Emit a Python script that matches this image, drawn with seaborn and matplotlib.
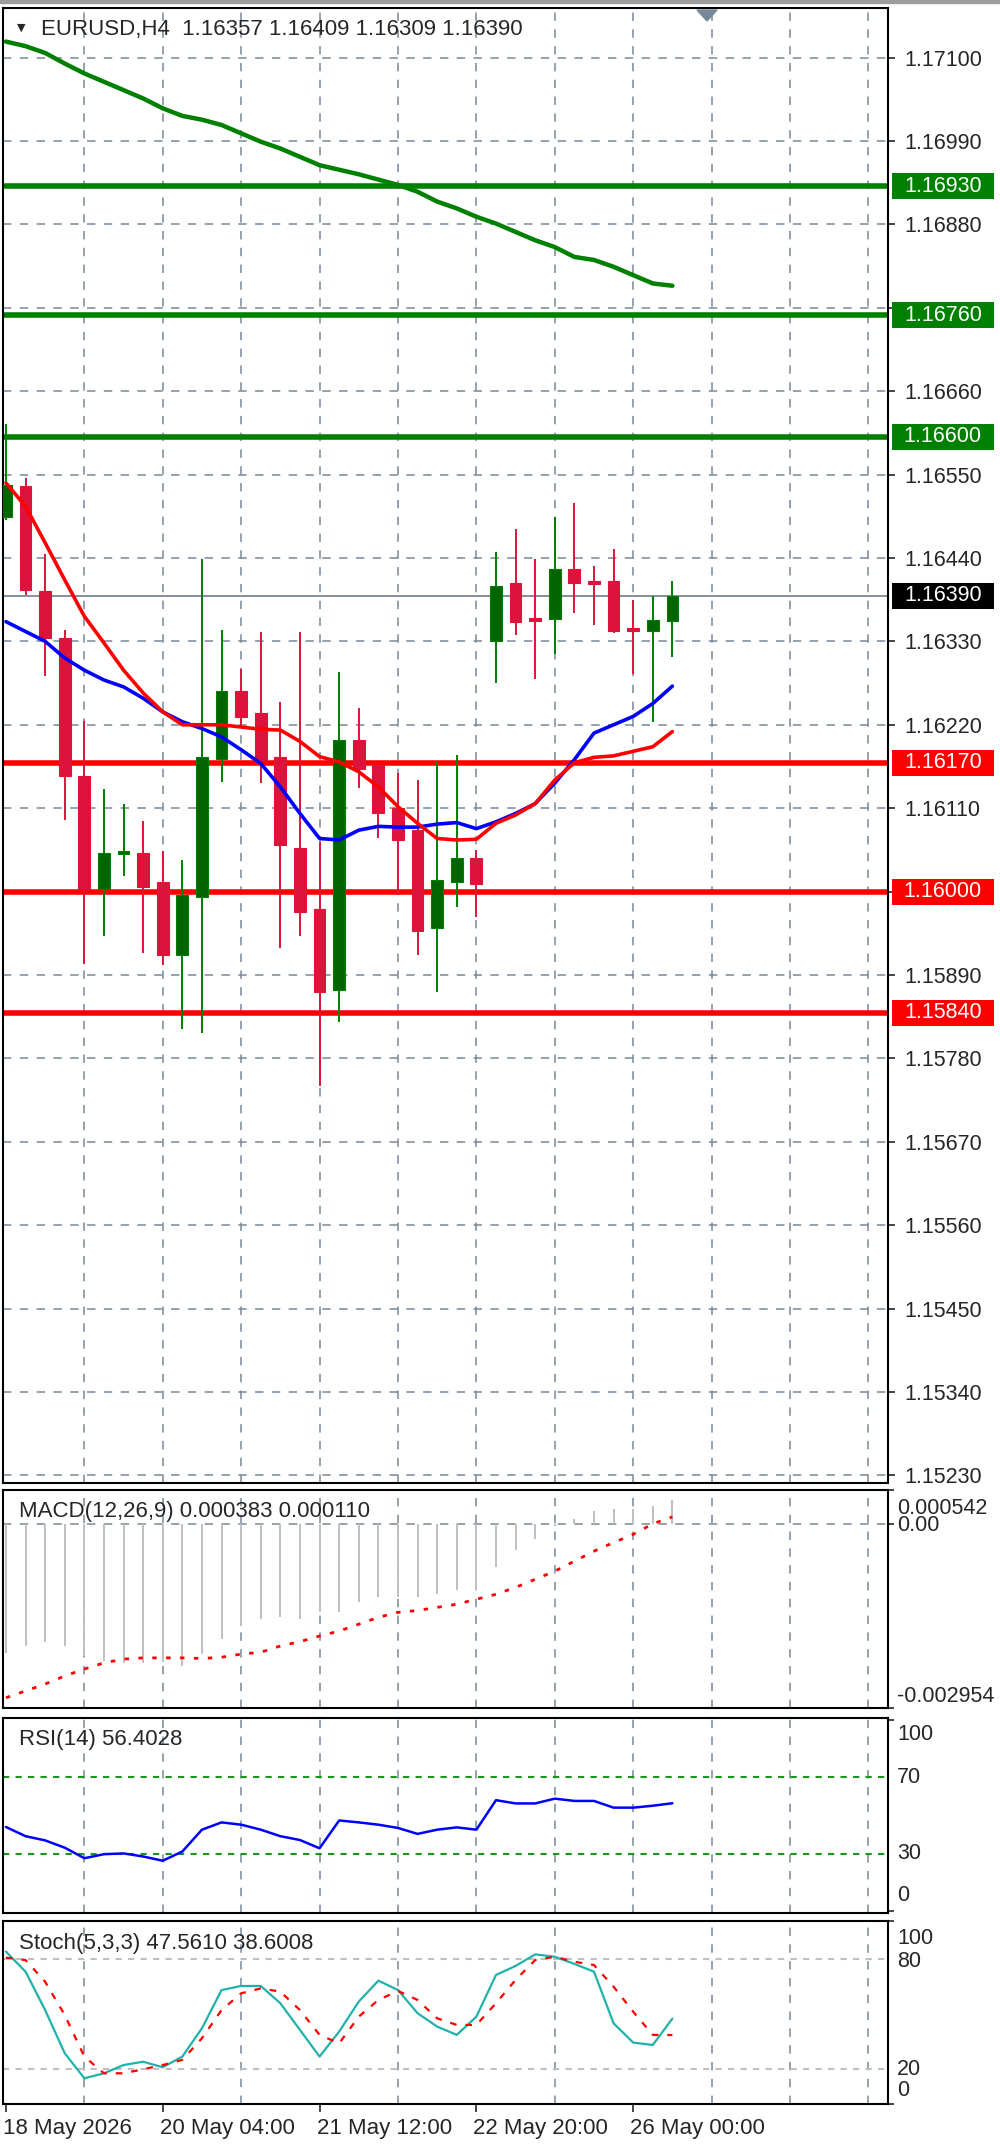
import matplotlib
matplotlib.use("Agg")
import matplotlib.pyplot as plt
import matplotlib.transforms as mtransforms
from matplotlib.patches import Rectangle, Polygon
import seaborn as sns
import numpy as np
import pandas as pd

#-------------------------------------------------------------------------------
# Data
#-------------------------------------------------------------------------------
opens = [1.16494, 1.16535, 1.16396, 1.16335, 1.16152, 1.16003, 1.16049, 1.16051, 1.16012, 1.15916,
         1.15993, 1.16175, 1.16264, 1.16235, 1.16177, 1.16057, 1.15977, 1.15870, 1.16200, 1.16167,
         1.16110, 1.16081, 1.15952, 1.16013, 1.16044, 1.16330, 1.16407, 1.16361, 1.16359, 1.16425,
         1.16410, 1.16410, 1.16348, 1.16343, 1.16357]
highs = [1.16617, 1.16545, 1.16445, 1.16345, 1.16225, 1.16135, 1.16115, 1.16093, 1.16054, 1.16041,
         1.16438, 1.16345, 1.16293, 1.16342, 1.16250, 1.16342, 1.16065, 1.16290, 1.16242, 1.16170,
         1.16157, 1.16147, 1.16171, 1.16180, 1.16055, 1.16448, 1.16478, 1.16439, 1.16494, 1.16513,
         1.16429, 1.16452, 1.16384, 1.16390, 1.16409]
lows = [1.16490, 1.16391, 1.16284, 1.16094, 1.15905, 1.15941, 1.16020, 1.15919, 1.15903, 1.15819,
        1.15813, 1.16145, 1.16217, 1.16143, 1.15925, 1.15941, 1.15744, 1.15828, 1.16136, 1.16070,
        1.15996, 1.15916, 1.15868, 1.15980, 1.15967, 1.16275, 1.16339, 1.16281, 1.16313, 1.16368,
        1.16352, 1.16341, 1.16287, 1.16224, 1.16309]
closes = [1.16536, 1.16398, 1.16334, 1.16152, 1.16003, 1.16051, 1.16054, 1.16006, 1.15916, 1.15996,
          1.16177, 1.16264, 1.16230, 1.16174, 1.16061, 1.15973, 1.15868, 1.16200, 1.16162, 1.16103,
          1.16068, 1.15948, 1.16015, 1.16044, 1.16010, 1.16403, 1.16355, 1.16357, 1.16425, 1.16407,
          1.16406, 1.16343, 1.16343, 1.16358, 1.16390]

ma_fast = [1.16539, 1.16508, 1.16460, 1.16411, 1.16363, 1.16328, 1.16292, 1.16262, 1.16237, 1.16220,
           1.16220, 1.16220, 1.16217, 1.16214, 1.16213, 1.16198, 1.16178, 1.16171, 1.16158, 1.16138,
           1.16112, 1.16090, 1.16070, 1.16068, 1.16069, 1.16090, 1.16101, 1.16116, 1.16147, 1.16170,
           1.16177, 1.16179, 1.16185, 1.16191, 1.16211]
ma_mid = [1.16356, 1.16343, 1.16330, 1.16308, 1.16292, 1.16279, 1.16270, 1.16255, 1.16237, 1.16224,
          1.16215, 1.16204, 1.16187, 1.16169, 1.16138, 1.16103, 1.16070, 1.16068, 1.16081, 1.16086,
          1.16085, 1.16085, 1.16089, 1.16091, 1.16083, 1.16092, 1.16103, 1.16116, 1.16143, 1.16174,
          1.16209, 1.16220, 1.16231, 1.16248, 1.16271]
ma_slow = [1.17121, 1.17115, 1.17106, 1.17092, 1.17079, 1.17068, 1.17057, 1.17046, 1.17033, 1.17023,
           1.17018, 1.17011, 1.17000, 1.16989, 1.16980, 1.16969, 1.16958, 1.16952, 1.16946, 1.16939,
           1.16932, 1.16923, 1.16910, 1.16901, 1.16890, 1.16881, 1.16870, 1.16859, 1.16850, 1.16837,
           1.16833, 1.16824, 1.16813, 1.16802, 1.16799]

levels_green = [1.16930, 1.16760, 1.16600]
levels_red = [1.16170, 1.16000, 1.15840]
price_ticks = [1.17100, 1.16990, 1.16880, 1.16770, 1.16660, 1.16550, 1.16440, 1.16330, 1.16220,
               1.16110, 1.16000, 1.15890, 1.15780, 1.15670, 1.15560, 1.15450, 1.15340, 1.15230]
hidden_ticks = [1.16770, 1.16000]

macd_main = [-0.00207, -0.00196, -0.00189, -0.00196, -0.00212, -0.00220, -0.00223, -0.00224, -0.00222, -0.00228,
             -0.00208, -0.00185, -0.00164, -0.00153, -0.00149, -0.00153, -0.00141, -0.00141, -0.00125, -0.00118,
             -0.00117, -0.00118, -0.00113, -0.00106, -0.00106, -0.00070, -0.00042, -0.00024, -0.00003, 0.00007,
             0.00020, 0.00023, 0.00023, 0.00028, 0.000383]
macd_signal = [-0.00279, -0.00268, -0.00257, -0.00244, -0.00233, -0.00223, -0.00217, -0.00215, -0.00215, -0.00215,
               -0.00216, -0.00214, -0.00209, -0.00206, -0.00196, -0.00189, -0.00180, -0.00172, -0.00161, -0.00150,
               -0.00142, -0.00139, -0.00134, -0.00129, -0.00121, -0.00113, -0.00102, -0.00089, -0.00076, -0.00060,
               -0.00044, -0.00030, -0.00017, 0.00000, 0.000110]
macd_range = (-0.002954, 0.000542)

rsi = [44.0, 39.2, 37.0, 33.2, 27.7, 29.8, 30.2, 28.6, 26.4, 31.2,
       42.6, 46.4, 45.2, 42.6, 39.2, 37.2, 32.9, 47.4, 46.4, 45.2,
       43.5, 40.4, 42.6, 43.8, 42.6, 58.0, 56.3, 56.3, 58.8, 57.6,
       57.6, 54.1, 54.1, 55.1, 56.4028]
rsi_levels = [70, 30]

stoch_k = [84.0, 73.1, 52.2, 28.7, 15.1, 17.8, 22.3, 24.1, 21.1, 26.9,
           42.3, 63.1, 65.3, 65.3, 55.9, 41.4, 26.9, 40.5, 56.8, 68.2,
           63.1, 50.5, 43.2, 38.7, 48.6, 71.3, 76.2, 82.5, 81.2, 77.3,
           73.1, 45.0, 34.5, 33.2, 47.5610]
stoch_d = [80.7, 79.4, 67.6, 49.5, 26.9, 17.8, 17.8, 20.0, 22.3, 25.1,
           36.9, 52.2, 61.3, 64.0, 62.2, 52.2, 38.7, 34.1, 48.6, 57.7,
           62.6, 57.7, 47.7, 44.1, 44.1, 55.9, 68.6, 79.4, 81.2, 78.5,
           76.7, 64.9, 51.3, 38.7, 38.6008]
stoch_levels = [80, 20]

time_labels = ["18 May 2026", "20 May 04:00", "21 May 12:00", "22 May 20:00", "26 May 00:00"]
time_label_bars = [0, 8, 16, 24, 32]
grid_bars = list(range(4, 45, 4))

df = pd.DataFrame({'bar': np.arange(len(closes)), 'open': opens, 'high': highs, 'low': lows,
                   'close': closes, 'ma_fast': ma_fast, 'ma_mid': ma_mid, 'ma_slow': ma_slow,
                   'macd': macd_main, 'signal': macd_signal, 'rsi': rsi, 'k': stoch_k, 'd': stoch_d})

#-------------------------------------------------------------------------------
# Figure layout (pixel based, like the terminal window)
#-------------------------------------------------------------------------------
sns.set_style("white")
plt.rcParams['font.family'] = ['Liberation Sans', 'DejaVu Sans']
plt.rcParams['axes.linewidth'] = 1.5

W, H = 1000, 2147
fig = plt.figure(figsize=(W / 100, H / 100), dpi=100)

def panel(top, bottom, left=3, right=888):
    return fig.add_axes([left / W, 1 - bottom / H, (right - left) / W, (bottom - top) / H])

ax = panel(8, 1483)
ax_macd = panel(1490, 1708)
ax_rsi = panel(1718, 1913)
ax_sto = panel(1921, 2104)
axes = [ax, ax_macd, ax_rsi, ax_sto]

grid_col = '#778899'
grid_ls = (0, (5.5, 5.5))
fs = 15.5      # scale labels
fs_txt = 16    # indicator captions and time axis

for a in axes:
    a.set_xlim(-0.15, 45.0)
    a.set_xticks(grid_bars, minor=True)
    a.set_xticks([])
    a.grid(True, which='minor', axis='x', color=grid_col, linestyle=grid_ls, linewidth=1.1)
    a.tick_params(which='minor', length=0)
    a.set_yticks([])
    for s in a.spines.values():
        s.set_color('black')
        s.set_linewidth(1.5)

# top strip of the window
fig.patches.append(Rectangle((0, 1 - 3 / H), 1, 3 / H, transform=fig.transFigure,
                             color='#9c9c9c', zorder=0))

#-------------------------------------------------------------------------------
# Main price panel
#-------------------------------------------------------------------------------
ymin, ymax = 1.15220, 1.171653
ax.set_ylim(ymin, ymax)
ax.set_yticks(price_ticks)
ax.set_yticklabels(['' if t in hidden_ticks else f'{t:.5f}' for t in price_ticks], fontsize=fs)
ax.yaxis.tick_right()
ax.tick_params(axis='y', which='major', right=True, length=5, width=1.2, pad=7, direction='out')
ax.grid(True, which='major', axis='y', color=grid_col, linestyle=grid_ls, linewidth=1.1)
ax.set_axisbelow(True)

# horizontal levels
for lv in levels_green:
    ax.axhline(lv, color='#008000', linewidth=4, zorder=1)
for lv in levels_red:
    ax.axhline(lv, color='#ff0000', linewidth=4, zorder=1)
ax.axhline(closes[-1], color=grid_col, linewidth=1.3, zorder=1)

# candles
up = df['close'] >= df['open']
wick_cols = np.where(up, '#008000', '#dc143c')
body_cols = np.where(up, '#006400', '#dc143c')
min_body = (ymax - ymin) / 1475 * 2
ax.vlines(df['bar'], df['low'], df['high'], colors=wick_cols, linewidth=1.4, zorder=3)
body_h = np.maximum((df['close'] - df['open']).abs(), min_body)
ax.bar(df['bar'], body_h, bottom=np.minimum(df['open'], df['close']), width=0.6,
       color=body_cols, edgecolor=wick_cols, linewidth=0.8, zorder=4)

# moving averages
sns.lineplot(data=df, x='bar', y='ma_slow', ax=ax, color='#008000', linewidth=3.2, zorder=5)
sns.lineplot(data=df, x='bar', y='ma_mid', ax=ax, color='#0000ff', linewidth=2.6, zorder=5)
sns.lineplot(data=df, x='bar', y='ma_fast', ax=ax, color='#ff0000', linewidth=2.6, zorder=5)
ax.set_xlabel('')
ax.set_ylabel('')

# price label boxes on the right scale
box_h = (ymax - ymin) / 1475 * 13
xform = mtransforms.blended_transform_factory(ax.transAxes, ax.transData)
def price_box(value, face):
    ax.add_patch(Rectangle((1.0045, value - box_h), 0.115, 2 * box_h, transform=xform,
                           facecolor=face, edgecolor='none', clip_on=False, zorder=6))
    ax.text(1.062, value, f'{value:.5f}', transform=xform, ha='center', va='center',
            color='white', fontsize=fs, clip_on=False, zorder=7)

for lv in levels_green:
    price_box(lv, '#008000')
for lv in levels_red:
    price_box(lv, '#ff0000')
price_box(closes[-1], 'black')

# header
last = df.iloc[-1]
fig.text(21 / W, 1 - 28 / H, '\u25bc', fontsize=8, ha='center', va='center',
         family=['DejaVu Sans'])
fig.text(41 / W, 1 - 29 / H,
         f"EURUSD,H4  {last['open']:.5f} {last['high']:.5f} {last['low']:.5f} {last['close']:.5f}",
         fontsize=fs_txt, ha='left', va='center')
fig.patches.append(Polygon([[697 / W, 1 - 10 / H], [717 / W, 1 - 10 / H], [707 / W, 1 - 21 / H]],
                           closed=True, transform=fig.transFigure, color=grid_col, zorder=10))

def right_label(a, value, text, dy_px):
    a.annotate(text, xy=(1, value), xycoords=('axes fraction', 'data'),
               xytext=(6.5, dy_px * 0.72), textcoords='offset points',
               ha='left', va='center', fontsize=fs, annotation_clip=False)

def right_ticks(a, values):
    a.set_yticks(values)
    a.yaxis.tick_right()
    a.tick_params(axis='y', right=True, length=4, width=1.2, labelright=False)

#-------------------------------------------------------------------------------
# MACD
#-------------------------------------------------------------------------------
ax_macd.set_ylim(*macd_range)
ax_macd.axhline(0, color=grid_col, linestyle=grid_ls, linewidth=1.1, zorder=1)
ax_macd.vlines(df['bar'], 0, df['macd'], colors='#c0c0c0', linewidth=1.4, zorder=2)
sns.lineplot(data=df, x='bar', y='signal', ax=ax_macd, color='#ff0000', linewidth=2,
             linestyle=(0, (1.6, 3.4)), zorder=3)
ax_macd.set_xlabel('')
ax_macd.set_ylabel('')
right_ticks(ax_macd, [macd_range[0], 0, macd_range[1]])
right_label(ax_macd, macd_range[1], f'{macd_range[1]:.6f}', -18)
right_label(ax_macd, 0, '0.00', -2)
right_label(ax_macd, macd_range[0], f'{macd_range[0]:.6f}', 11)
ax_macd.text(16 / 885, 1 - (1511 - 1490) / 218, f"MACD(12,26,9) {macd_main[-1]:.6f} {macd_signal[-1]:.6f}",
             transform=ax_macd.transAxes, fontsize=fs_txt, ha='left', va='center')

#-------------------------------------------------------------------------------
# RSI
#-------------------------------------------------------------------------------
ax_rsi.set_ylim(-0.9, 100.9)
for lv in rsi_levels:
    ax_rsi.axhline(lv, color='#1a961a', linestyle=(0, (3, 3)), linewidth=1.5, zorder=1)
sns.lineplot(data=df, x='bar', y='rsi', ax=ax_rsi, color='#0000ff', linewidth=1.8, zorder=3)
ax_rsi.set_xlabel('')
ax_rsi.set_ylabel('')
right_ticks(ax_rsi, [0, 100])
right_label(ax_rsi, 100, '100', -15)
right_label(ax_rsi, 70, '70', 0)
right_label(ax_rsi, 30, '30', 0)
right_label(ax_rsi, 0, '0', 16)
ax_rsi.text(16 / 885, 1 - (1740 - 1718) / 195, f"RSI(14) {rsi[-1]:.4f}",
            transform=ax_rsi.transAxes, fontsize=fs_txt, ha='left', va='center')

#-------------------------------------------------------------------------------
# Stochastic
#-------------------------------------------------------------------------------
ax_sto.set_ylim(1.1, 100.65)
for lv in stoch_levels:
    ax_sto.axhline(lv, color='#c0c0c0', linestyle=(0, (3, 3)), linewidth=1.5, zorder=1)
sns.lineplot(data=df, x='bar', y='k', ax=ax_sto, color='#20b2aa', linewidth=1.6, zorder=3)
sns.lineplot(data=df, x='bar', y='d', ax=ax_sto, color='#ff0000', linewidth=1.6,
             linestyle=(0, (3, 4)), zorder=3)
ax_sto.set_ylabel('')
right_ticks(ax_sto, [1.1, 100.65])
right_label(ax_sto, 100, '100', -16)
right_label(ax_sto, 80, '80', -3)
right_label(ax_sto, 20, '20', 0)
right_label(ax_sto, 0, '0', 16)
ax_sto.text(16 / 885, 1 - (1943 - 1921) / 183, f"Stoch(5,3,3) {stoch_k[-1]:.4f} {stoch_d[-1]:.4f}",
            transform=ax_sto.transAxes, fontsize=fs_txt, ha='left', va='center')

ax_sto.set_xticks(time_label_bars)
ax_sto.set_xticklabels(time_labels, fontsize=fs_txt, ha='left')
ax_sto.tick_params(axis='x', which='major', bottom=True, length=6, width=1.2, pad=4, direction='out')
shift = mtransforms.ScaledTranslation(-3 / 100, 0, fig.dpi_scale_trans)
for lbl in ax_sto.get_xticklabels():
    lbl.set_transform(lbl.get_transform() + shift)
ax_sto.set_xlabel('')

fig.savefig('out.png', dpi=100, facecolor='white')
